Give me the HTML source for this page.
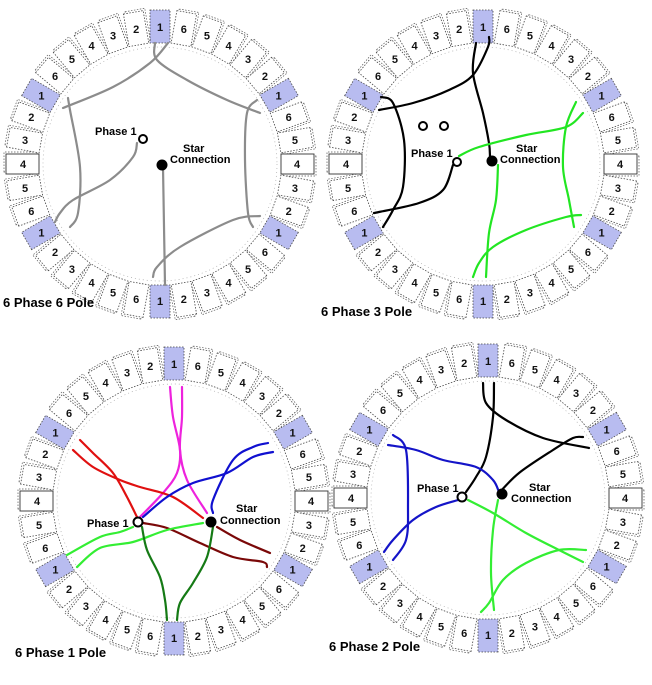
<!DOCTYPE html>
<html><head><meta charset="utf-8"><style>
html,body{margin:0;padding:0;background:#fff;}
svg{display:block;font-family:"Liberation Sans",Arial,sans-serif;}
.n{font-size:11px;font-weight:bold;fill:#111;text-anchor:middle;}
.lb{font-size:11px;font-weight:bold;fill:#000;}
.tt{font-size:13px;font-weight:bold;fill:#000;}
.w{fill:none;stroke-width:2.2;stroke-linecap:round;stroke-linejoin:round;}
</style></head><body>
<svg id="s" width="652" height="685" viewBox="0 0 652 685" xmlns="http://www.w3.org/2000/svg">
<g id="rings"></g>

<!-- TL: 6 Phase 6 Pole -->
<g class="w" stroke="#8c8c8c">
<polyline points="168,43 150,63 113,87 63,108"/>
<polyline points="155,43 157,60 187,80 227,100 260,113"/>
<polyline points="257,100 247,113 245,160 248,213 253,227"/>
<polyline points="260,216 233,220 180,247 157,267 153,277"/>
<polyline points="163,167 165,285"/>
<polyline points="68,98 70,110 80,167 78,213 70,227"/>
<polyline points="137,143 133,157 110,180 73,200 60,213 55,222"/>
</g>
<circle cx="143" cy="139" r="4" fill="#fff" stroke="#000" stroke-width="2"/>
<circle cx="162" cy="165" r="5.5" fill="#000"/>
<text class="lb" x="95" y="135">Phase 1</text>
<text class="lb" x="183" y="152">Star</text>
<text class="lb" x="170" y="163">Connection</text>
<text class="tt" x="3" y="307">6 Phase 6 Pole</text>

<!-- TR: 6 Phase 3 Pole -->
<g class="w" stroke="#000">
<polyline points="379,110 413,103 449,90 473,75 488,47 489,37"/>
<polyline points="381,97 393,103 404,140 403,187 393,210 383,227"/>
<polyline points="476,43 473,73 483,113 489,143 490,157"/>
<polyline points="453,165 443,190 419,203 379,212 374,213"/>
</g>
<g class="w" stroke="#22e622">
<polyline points="459,156 479,147 526,135 566,127 583,113"/>
<polyline points="576,102 566,127 563,167 569,200 574,227"/>
<polyline points="498,165 496,200 489,233 486,277"/>
<polyline points="581,215 566,217 526,230 493,247 479,263 473,277"/>
</g>
<circle cx="423" cy="126" r="4" fill="#fff" stroke="#000" stroke-width="2"/>
<circle cx="444" cy="126" r="4" fill="#fff" stroke="#000" stroke-width="2"/>
<circle cx="457" cy="162" r="4" fill="#fff" stroke="#000" stroke-width="2"/>
<circle cx="492" cy="161" r="5.5" fill="#000"/>
<text class="lb" x="411" y="157">Phase 1</text>
<text class="lb" x="516" y="152">Star</text>
<text class="lb" x="500" y="163">Connection</text>
<text class="tt" x="321" y="316">6 Phase 3 Pole</text>

<!-- BL: 6 Phase 1 Pole -->
<g class="w">
<polyline stroke="#ee22dd" points="170,387 173,417 180,450 177,473 163,493 140,517"/>
<polyline stroke="#ee22dd" points="182,387 182,417 180,450 187,480 207,513"/>
<polyline stroke="#e01010" points="80,440 93,453 113,473 127,497 137,517"/>
<polyline stroke="#e01010" points="73,450 93,467 120,480 140,487 173,497 203,518"/>
<polyline stroke="#1010d0" points="268,443 253,447 233,460 213,500 213,513"/>
<polyline stroke="#1010d0" points="273,452 253,457 227,473 193,483 167,497 143,517"/>
<polyline stroke="#7a0808" points="143,523 167,528 200,543 233,557 263,562 267,567"/>
<polyline stroke="#7a0808" points="217,527 240,540 270,553"/>
<polyline stroke="#33ee33" points="133,527 120,532 100,537 67,555"/>
<polyline stroke="#33ee33" points="203,523 167,530 133,542 100,548 77,567"/>
<polyline stroke="#157a15" points="142,527 147,550 160,577 165,600 167,620"/>
<polyline stroke="#157a15" points="213,527 207,557 193,583 180,603 177,620"/>
</g>
<circle cx="138" cy="522" r="4.5" fill="#fff" stroke="#000" stroke-width="2"/>
<circle cx="211" cy="522" r="5.5" fill="#000"/>
<text class="lb" x="87" y="527">Phase 1</text>
<text class="lb" x="236" y="512">Star</text>
<text class="lb" x="220" y="524">Connection</text>
<text class="tt" x="15" y="657">6 Phase 1 Pole</text>

<!-- BR: 6 Phase 2 Pole -->
<g class="w">
<polyline stroke="#000" points="483,383 486,403 506,420 543,438 589,448"/>
<polyline stroke="#000" points="494,383 493,417 486,457 476,477 466,492"/>
<polyline stroke="#000" points="499,493 519,473 553,450 573,438 583,437"/>
<polyline stroke="#1414c8" points="393,435 406,450 408,507 406,540 393,560"/>
<polyline stroke="#1414c8" points="388,445 416,450 443,460 476,467 493,480 499,492"/>
<polyline stroke="#1414c8" points="458,500 436,507 413,520 393,540 384,552"/>
<polyline stroke="#33ee33" points="468,500 493,513 526,533 559,550 583,562"/>
<polyline stroke="#33ee33" points="498,500 493,530 491,573 494,610"/>
<polyline stroke="#33ee33" points="586,550 559,550 526,563 503,580 489,603 481,612"/>
</g>
<circle cx="462" cy="497" r="4.5" fill="#fff" stroke="#000" stroke-width="2"/>
<circle cx="502" cy="494" r="5.5" fill="#000"/>
<text class="lb" x="417" y="492">Phase 1</text>
<text class="lb" x="529" y="491">Star</text>
<text class="lb" x="511" y="502">Connection</text>
<text class="tt" x="329" y="651">6 Phase 2 Pole</text>
</svg>
<script>
(function(){
var NS="http://www.w3.org/2000/svg";
var g=document.getElementById("rings");
var centers=[[160,164],[483,164],[174,501],[488,498]];
var labels=[1,6,5,4,3,2];
function el(t,a,p){var e=document.createElementNS(NS,t);for(var k in a)e.setAttribute(k,a[k]);(p||g).appendChild(e);return e;}
centers.forEach(function(c){
  var cx=c[0],cy=c[1];
  el("circle",{cx:cx,cy:cy,r:117,fill:"none",stroke:"#aaa","stroke-width":0.7,"stroke-dasharray":"1 3"});
  for(var k=0;k<36;k++){
    var a=k*10, lab=labels[k%6], blue=(k%6==0), solid=(k==9||k==27);
    var gg=el("g",{transform:"translate("+cx+","+cy+") rotate("+a+")"});
    if(!blue){
      el("rect",{x:-8,y:-156,width:20,height:33,fill:"none",stroke:"#555","stroke-width":0.7,"stroke-dasharray":"1.5 1.5"},gg);
    }
    el("rect",{x:-10,y:-154,width:20,height:33,fill:blue?"#b8bcf0":"#fff",stroke:solid?"#333":"#444","stroke-width":solid?0.9:0.8,"stroke-dasharray":solid?"none":"1.5 1.5"},gg);
    var rad=a*Math.PI/180, r=137;
    var tx=cx+r*Math.sin(rad), ty=cy-r*Math.cos(rad);
    var t=el("text",{x:tx.toFixed(1),y:(ty+4).toFixed(1),"class":"n"});
    t.textContent=String(lab);
  }
});
// smooth polylines into catmull-rom paths
var pls=document.querySelectorAll("polyline");
for(var i=0;i<pls.length;i++){
  var pl=pls[i];
  var pts=pl.getAttribute("points").trim().split(/\s+/).map(function(s){var q=s.split(",");return [+q[0],+q[1]];});
  if(pts.length<3)continue;
  var d="M"+pts[0][0]+","+pts[0][1];
  for(var j=0;j<pts.length-1;j++){
    var p0=pts[Math.max(j-1,0)],p1=pts[j],p2=pts[j+1],p3=pts[Math.min(j+2,pts.length-1)];
    var c1x=p1[0]+(p2[0]-p0[0])/6,c1y=p1[1]+(p2[1]-p0[1])/6;
    var c2x=p2[0]-(p3[0]-p1[0])/6,c2y=p2[1]-(p3[1]-p1[1])/6;
    d+=" C"+c1x.toFixed(1)+","+c1y.toFixed(1)+" "+c2x.toFixed(1)+","+c2y.toFixed(1)+" "+p2[0]+","+p2[1];
  }
  var p=document.createElementNS(NS,"path");
  p.setAttribute("d",d);
  if(pl.getAttribute("stroke"))p.setAttribute("stroke",pl.getAttribute("stroke"));
  pl.parentNode.replaceChild(p,pl);
}
})();
</script>
</body></html>
